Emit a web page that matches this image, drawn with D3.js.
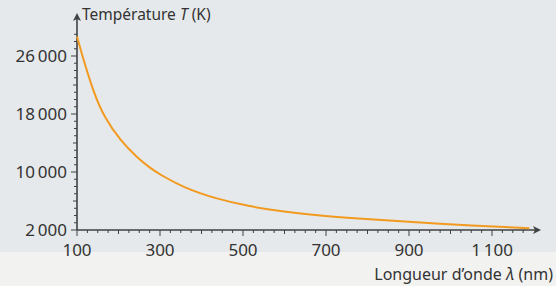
<!DOCTYPE html>
<html>
<head>
<meta charset="utf-8">
<script src="https://cdn.jsdelivr.net/npm/d3@7"></script>
<style>
  html, body { margin: 0; padding: 0; background: #f2f2f1; }
  svg { display: block; }
</style>
</head>
<body>
<div id="chart"></div>
<script>
// values
const wavelengths = [100, 115, 140, 165, 205, 245, 275, 300, 355, 435, 515, 600, 680, 760, 895, 1055, 1190];
const temperatures = [28700, 25600, 21000, 17600, 14300, 12000, 10600, 9650, 7900, 6300, 5250, 4500, 4000, 3650, 3150, 2600, 2250];
const xTicks = [100, 300, 500, 700, 900, 1100];
const yTicks = [2000, 10000, 18000, 26000];

const config = {
    width: 556,
    height: 286,
    axis: "#3f4143",
    text: "#333333",
    line: "#f29a1f",
    font: "'Noto Sans', sans-serif",
};

const x = d3.scaleLinear().domain([100, 1100]).range([77, 492]);
const y = d3.scaleLinear().domain([2000, 26000]).range([230, 56]);

const svg = d3.select("#chart").append("svg")
    .attr("width", config.width)
    .attr("height", config.height);

// paper background: grey tint above, lighter page below
svg.append("rect").attr("width", config.width).attr("height", config.height).attr("fill", "#f2f2f1");
svg.append("rect").attr("width", config.width).attr("height", 252).attr("fill", "#e6e9eb");

// minor ticks
const xMinor = d3.range(100, 1176, 25);
svg.append("g").selectAll("line")
    .data(xMinor)
    .join("line")
    .attr("x1", d => x(d)).attr("x2", d => x(d))
    .attr("y1", 230)
    .attr("y2", d => xTicks.includes(d) ? 236 : (d % 100 === 0 ? 234 : 233))
    .attr("stroke", config.axis)
    .attr("stroke-width", 1);

const yMinor = d3.range(2000, 29001, 1000);
svg.append("g").selectAll("line")
    .data(yMinor)
    .join("line")
    .attr("y1", d => y(d)).attr("y2", d => y(d))
    .attr("x1", d => yTicks.includes(d) ? 71 : (d % 4000 === 2000 ? 73 : 74))
    .attr("x2", 77)
    .attr("stroke", config.axis)
    .attr("stroke-width", 1);

// axes lines with arrows
svg.append("line")
    .attr("x1", 77).attr("x2", 536).attr("y1", 230).attr("y2", 230)
    .attr("stroke", config.axis).attr("stroke-width", 1.6);
svg.append("path")
    .attr("d", "M541,230 L533,226 L535,230 L533,234 Z")
    .attr("fill", config.axis);

svg.append("line")
    .attr("x1", 77).attr("x2", 77).attr("y1", 230).attr("y2", 18)
    .attr("stroke", config.axis).attr("stroke-width", 1.6);
svg.append("path")
    .attr("d", "M77,13 L73,21 L77,19 L81,21 Z")
    .attr("fill", config.axis);

// tick labels
const fmt = d => d3.format(",")(d).replace(",", "\u2009");

svg.append("g").selectAll("text")
    .data(xTicks)
    .join("text")
    .attr("x", d => x(d))
    .attr("y", 256)
    .attr("text-anchor", "middle")
    .attr("font-family", config.font)
    .attr("font-size", 17)
    .attr("fill", config.text)
    .text(fmt);

svg.append("g").selectAll("text")
    .data(yTicks)
    .join("text")
    .attr("x", 67)
    .attr("y", d => y(d))
    .attr("dy", "0.35em")
    .attr("text-anchor", "end")
    .attr("font-family", config.font)
    .attr("font-size", 17)
    .attr("fill", config.text)
    .text(fmt);

// axis titles
const yTitle = svg.append("text")
    .attr("x", 82).attr("y", 20)
    .attr("font-family", config.font)
    .attr("font-size", 15.5)
    .attr("fill", config.text);
yTitle.append("tspan").text("Température ");
yTitle.append("tspan").attr("font-style", "italic").text("T");
yTitle.append("tspan").text(" (K)");

const xTitle = svg.append("text")
    .attr("x", 553).attr("y", 280)
    .attr("text-anchor", "end")
    .attr("font-family", config.font)
    .attr("font-size", 16)
    .attr("fill", config.text);
xTitle.append("tspan").text("Longueur d\u2019onde ");
xTitle.append("tspan").attr("font-style", "italic").text("\u03bb");
xTitle.append("tspan").text(" (nm)");

// curve
const points = wavelengths.map((w, i) => [w, temperatures[i]]);
svg.append("path")
    .datum(points)
    .attr("fill", "none")
    .attr("stroke", config.line)
    .attr("stroke-width", 2)
    .attr("d", d3.line()
        .x(d => x(d[0]))
        .y(d => y(d[1]))
        .curve(d3.curveBasis));
</script>
</body>
</html>
